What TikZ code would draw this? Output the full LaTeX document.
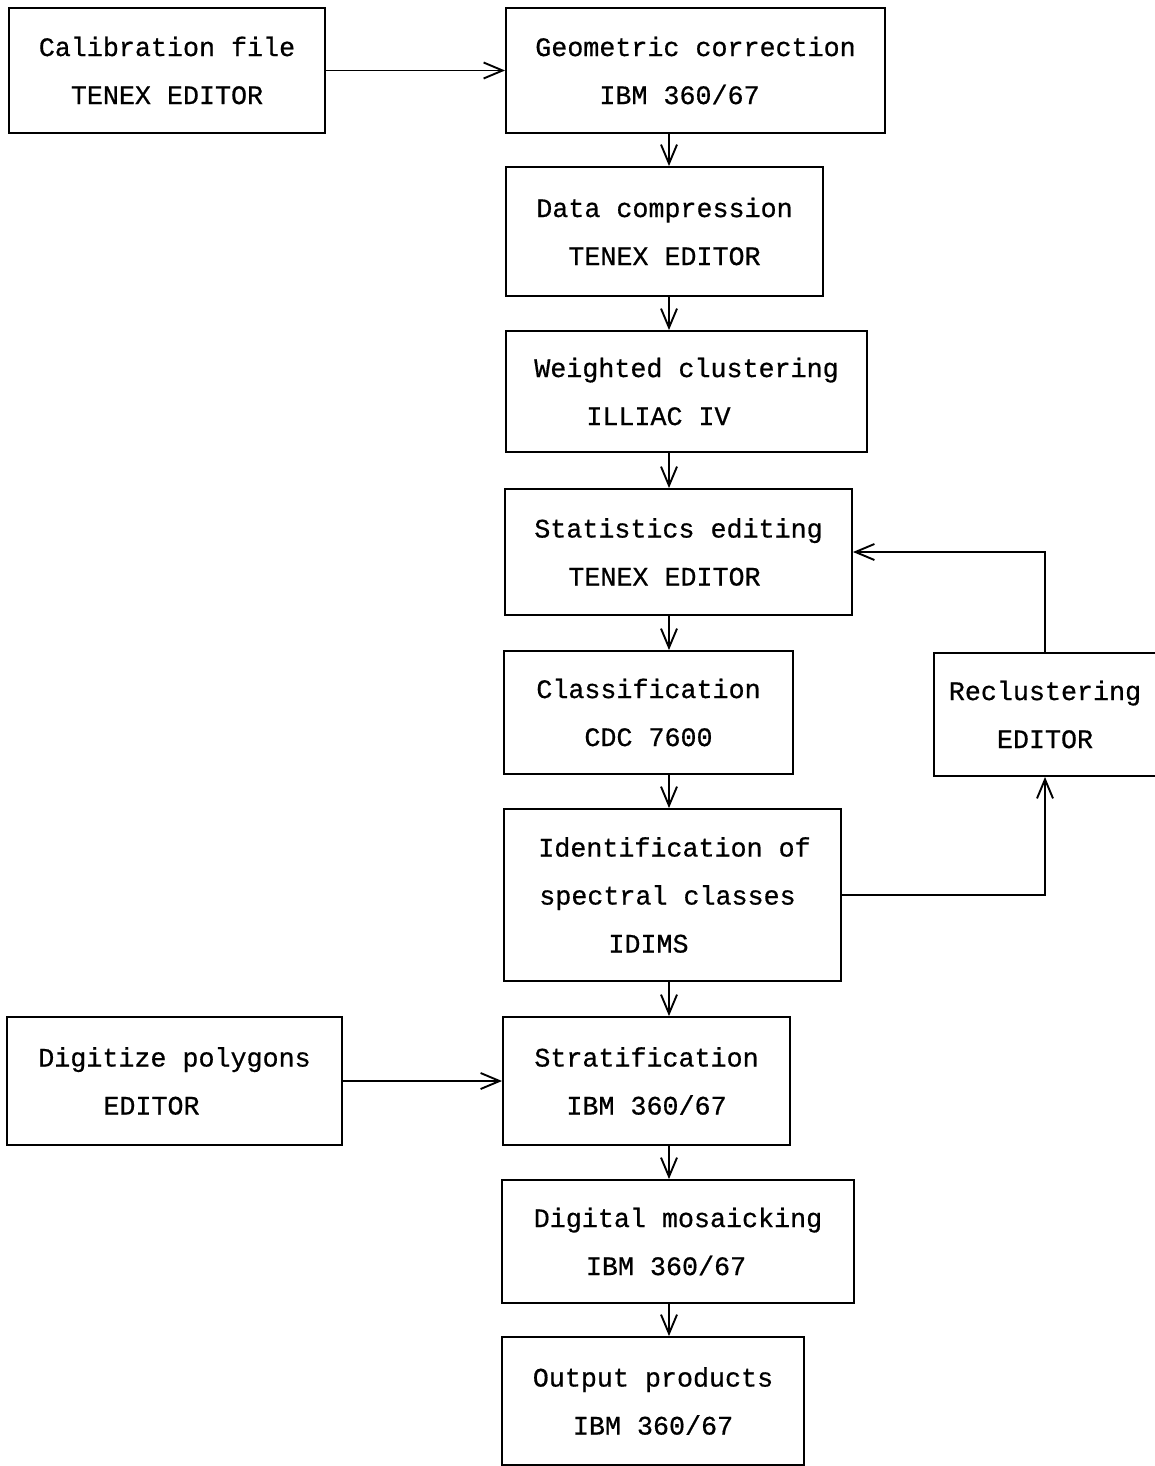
\documentclass[tikz,border=0pt]{standalone}
\usepackage{fontspec}
\setmainfont{Liberation Mono}[FakeBold=0.6]
\usetikzlibrary{arrows.meta}
\tikzset{
	stage/.style={draw,line width=1.9pt,inner sep=0pt,align=center,font=\fontsize{26.7}{48}\selectfont},
	flow/.style={line width=1.9pt,-{Straight Barb[length=19pt,width=16pt,line width=1.9pt]}}
}
\begin{document}
\begin{tikzpicture}[x=1pt,y=-1pt]
		\useasboundingbox (0,0) rectangle (1154,1466);
		\coordinate (spine) at (669,0);
		\node[stage,minimum width=316pt,minimum height=125pt] (cal) at (167,70.5) {Calibration file\\TENEX EDITOR};
		\node[stage,minimum width=379pt,minimum height=125pt] (geo) at (695.5,70.5) {Geometric correction\\IBM 360/67\hspace*{32pt}};
		\node[stage,minimum width=317pt,minimum height=129pt] (comp) at (664.5,231.5) {Data compression\\TENEX EDITOR};
		\node[stage,minimum width=361pt,minimum height=121pt] (clus) at (686.5,391.5) {Weighted clustering\\ILLIAC IV\hspace*{56pt}};
		\node[stage,minimum width=347pt,minimum height=126pt] (stat) at (678.5,552) {Statistics editing\\TENEX EDITOR\hspace*{28pt}};
		\node[stage,minimum width=289pt,minimum height=123pt] (class) at (648.5,712.5) {Classification\\CDC 7600};
		\node[stage,minimum width=222pt,minimum height=123pt] (reclus) at (1045,714.5) {Reclustering\\EDITOR};
		\node[stage,minimum width=337pt,minimum height=172pt] (ident) at (672.5,895) {\mbox{\hspace{4pt}Identification of}\\\mbox{spectral classes\hspace{10pt}}\\IDIMS\hspace*{48pt}};
		\node[stage,minimum width=335pt,minimum height=128pt] (digit) at (174.5,1081) {Digitize polygons\\EDITOR\hspace*{46pt}};
		\node[stage,minimum width=287pt,minimum height=128pt] (strat) at (646.5,1081) {Stratification\\IBM 360/67};
		\node[stage,minimum width=352pt,minimum height=123pt] (mosaic) at (678,1241.5) {Digital mosaicking\\IBM 360/67\hspace*{24pt}};
		\node[stage,minimum width=302pt,minimum height=128pt] (out) at (653,1401) {Output products\\IBM 360/67};
		\draw[flow] (cal.east) -- (geo.west);
		\draw[flow] (digit.east) -- (strat.west);
		\draw[flow] (geo.south -| spine) -- (comp.north -| spine);
		\draw[flow] (comp.south -| spine) -- (clus.north -| spine);
		\draw[flow] (clus.south -| spine) -- (stat.north -| spine);
		\draw[flow] (stat.south -| spine) -- (class.north -| spine);
		\draw[flow] (class.south -| spine) -- (ident.north -| spine);
		\draw[flow] (ident.south -| spine) -- (strat.north -| spine);
		\draw[flow] (strat.south -| spine) -- (mosaic.north -| spine);
		\draw[flow] (mosaic.south -| spine) -- (out.north -| spine);
		\draw[flow] (ident.east) -| (reclus.south);
		\draw[flow] (reclus.north) |- (stat.east);
	\end{tikzpicture}
\end{document}
